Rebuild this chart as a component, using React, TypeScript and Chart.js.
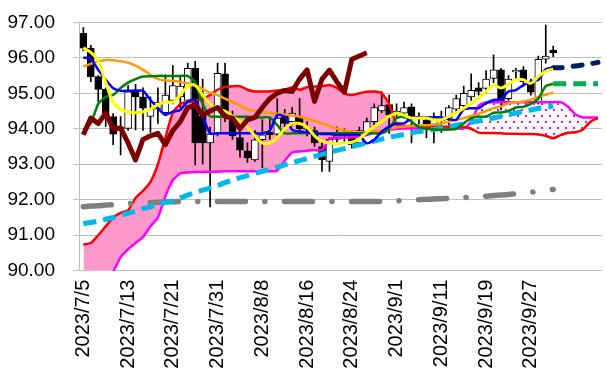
import React, { useEffect, useRef } from 'react';
import { Chart, registerables } from 'chart.js';

Chart.register(...registerables);

const categories = [
  '2023/7/5', '2023/7/6', '2023/7/7', '2023/7/10', '2023/7/11', '2023/7/12', '2023/7/13', '2023/7/14', '2023/7/17', '2023/7/18',
  '2023/7/19', '2023/7/20', '2023/7/21', '2023/7/24', '2023/7/25', '2023/7/26', '2023/7/27', '2023/7/28', '2023/7/31', '2023/8/1',
  '2023/8/2', '2023/8/3', '2023/8/4', '2023/8/7', '2023/8/8', '2023/8/9', '2023/8/10', '2023/8/11', '2023/8/14', '2023/8/15',
  '2023/8/16', '2023/8/17', '2023/8/18', '2023/8/21', '2023/8/22', '2023/8/23', '2023/8/24', '2023/8/25', '2023/8/28', '2023/8/29',
  '2023/8/30', '2023/8/31', '2023/9/1', '2023/9/4', '2023/9/5', '2023/9/6', '2023/9/7', '2023/9/8', '2023/9/11', '2023/9/12',
  '2023/9/13', '2023/9/14', '2023/9/15', '2023/9/18', '2023/9/19', '2023/9/20', '2023/9/21', '2023/9/22', '2023/9/25', '2023/9/26',
  '2023/9/27', '2023/9/28', '2023/9/29', '2023/10/2', '', '', '', '', '', '',
];
const labelEvery = 6;

const opens = [
  96.69, 96.27, 95.47, 95.11, 94.34, 93.95, 94.01, 95.1, 94.9, 94.35,
  94.55, 94.45, 94.8, 94.9, 94.8, 95.7, 94.35, 93.6, 93.87, 95.55,
  94.35, 93.75, 93.38, 93.12, 93.69, 93.9, 93.85, 94.4, 94.2, 94.35,
  93.98, 93.95, 93.5, 93.08, 93.7, 93.8, 93.85, 93.6, 93.9, 94.2,
  94.5, 94.68, 94.4, 94.44, 94.62, 94.35, 94.25, 94.0, 94.22, 94.3,
  94.55, 94.65, 94.9, 95.15, 95.14, 95.42, 95.66, 94.85, 95.6, 95.66,
  95.28, 94.76, 95.96, 96.22,
];
const highs = [
  96.85, 96.35, 95.5, 95.15, 94.43, 94.34, 95.22, 95.25, 95.15, 94.9,
  95.15, 95.52, 95.78, 95.45, 95.85, 95.9, 95.4, 94.05, 95.85, 95.85,
  94.5, 93.95, 93.6, 93.95, 94.25, 94.3, 94.85, 94.55, 94.6, 94.85,
  94.2, 94.05, 93.65, 93.75, 94.05, 94.0, 93.95, 94.05, 94.3, 94.7,
  95.05, 94.95, 94.7, 94.75, 94.7, 94.45, 94.35, 94.45, 94.5, 94.65,
  94.95, 95.2, 95.55, 95.3, 95.64, 96.08, 95.7, 95.5, 95.7, 95.75,
  95.4, 96.05, 96.92, 96.33,
];
const lows = [
  96.2, 95.33, 94.76, 94.06, 93.55, 93.26, 93.95, 93.97, 93.95, 93.9,
  94.15, 94.4, 94.7, 94.6, 94.75, 92.98, 93.0, 91.8, 93.8, 94.2,
  93.7, 93.2, 93.05, 93.08, 92.9, 93.7, 93.8, 94.0, 94.1, 93.95,
  93.8, 93.5, 92.8, 92.8, 93.55, 93.6, 93.45, 93.5, 93.85, 94.1,
  94.45, 93.87, 94.3, 94.3, 93.6, 93.95, 93.75, 93.6, 93.9, 94.1,
  94.45, 94.55, 94.8, 94.95, 95.0, 95.3, 94.53, 94.8, 95.4, 95.2,
  94.95, 94.7, 95.85, 96.03,
];
const closes = [
  96.27, 95.47, 95.11, 94.34, 93.85, 94.05, 95.04, 94.9, 94.58, 94.55,
  94.75, 94.95, 95.22, 95.2, 95.7, 93.6, 93.6, 93.85, 95.56, 94.35,
  93.8, 93.4, 93.18, 93.69, 93.83, 93.83, 94.3, 94.15, 94.44, 94.0,
  94.02, 93.6, 93.12, 93.7, 93.8, 93.87, 93.55, 93.95, 94.2, 94.6,
  94.65, 94.39, 94.5, 94.6, 94.35, 94.3, 94.0, 94.25, 94.32, 94.6,
  94.85, 95.0, 95.08, 95.05, 95.4, 95.66, 94.77, 95.4, 95.65, 95.32,
  95.03, 95.96, 96.05, 96.14,
];
const laggingShift = 25;

const blueLine = [
  96.01, 95.97, 95.66, 95.38, 95.14, 95.07, 95.07, 95.07, 95.07, 94.81,
  94.58, 94.39, 94.48, 94.53, 94.77, 94.81, 94.34, 93.87, 93.87, 93.87,
  93.87, 93.87, 93.87, 93.87, 93.87, 93.95, 94.39, 94.34, 93.97, 93.92,
  93.9, 93.87, 93.85, 93.85, 93.83, 93.83, 93.83, 93.83, 93.59, 93.69,
  93.92, 94.06, 94.15, 94.15, 94.3, 94.3, 94.32, 94.32, 94.32, 94.27,
  94.25, 94.55, 94.58, 94.58, 94.72, 94.81, 94.83, 95.05, 95.09, 95.23,
  95.33, 95.38, 95.68, 95.72,
];
const greenLine = [
  93.95, 94.15, 94.7, 94.9, 94.95, 95.15, 95.3, 95.4, 95.47, 95.48,
  95.49, 95.49, 95.49, 95.49, 95.49, 95.3, 94.7, 94.35, 94.34, 94.34,
  94.34, 94.34, 94.34, 94.32, 94.32, 94.32, 94.1, 93.87, 93.87, 93.87,
  93.87, 93.87, 93.87, 93.87, 93.87, 93.87, 93.87, 93.87, 93.87, 93.87,
  93.87, 94.0, 94.3, 94.34, 94.2, 94.05, 94.0, 93.98, 93.97, 93.98,
  94.0, 94.15, 94.3, 94.34, 94.34, 94.45, 94.46, 94.5, 94.6, 94.62,
  94.7, 94.85, 95.2, 95.27,
];
const yellowLine = [
  96.28, 96.15, 95.9, 95.3, 94.75, 94.55, 94.47, 94.45, 94.48, 94.55,
  94.68, 94.75, 94.75, 94.95, 95.2, 95.22, 94.95, 94.7, 94.55, 94.5,
  94.35, 94.2, 94.05, 93.8, 93.6, 93.6, 93.75, 94.0, 94.15, 94.15,
  94.05, 93.8, 93.65, 93.6, 93.58, 93.6, 93.62, 93.72, 93.9, 94.06,
  94.2, 94.35, 94.44, 94.38, 94.3, 94.3, 94.3, 94.25, 94.25, 94.35,
  94.45, 94.58, 94.72, 94.86, 95.05, 95.23, 95.15, 95.25, 95.38, 95.38,
  95.28, 95.47, 95.62, 95.68,
];
const orangeLine = [
  95.75, 95.83, 95.9, 95.94, 95.93, 95.9, 95.86, 95.78, 95.66, 95.52,
  95.4, 95.37, 95.35, 95.32, 95.28, 95.23, 95.12, 95.02, 94.95, 94.85,
  94.76, 94.65, 94.55, 94.5, 94.47, 94.45, 94.42, 94.4, 94.37, 94.34,
  94.28, 94.22, 94.15, 94.08, 94.0, 93.95, 93.92, 93.9, 93.9, 93.93,
  93.95, 94.0, 94.04, 94.06, 94.08, 94.1, 94.1, 94.12, 94.15, 94.2,
  94.25, 94.3, 94.36, 94.42, 94.5, 94.58, 94.63, 94.72, 94.75, 94.77,
  94.82, 94.9, 94.96, 95.02,
];
const spanRed = [
  90.74, 90.78, 91.0, 91.25, 91.5, 91.63, 91.7, 92.05, 92.25, 92.5,
  93.0, 93.75, 94.45, 94.7, 94.75, 94.78, 94.85, 94.95, 95.1, 95.18,
  95.2, 95.2, 95.1, 95.05, 95.05, 95.05, 95.08, 95.1, 95.17, 95.1,
  95.17, 95.19, 95.2, 95.23, 95.15, 95.0, 94.95, 95.0, 95.04, 95.05,
  95.0, 94.7, 94.12, 94.08, 94.08, 94.08, 94.07, 94.07, 94.06, 94.06,
  94.06, 94.05, 94.0, 93.89, 93.88, 93.88, 93.87, 93.86, 93.86, 93.85,
  93.85, 93.84, 93.8, 93.73, 93.82, 93.89, 93.9, 93.98, 94.2, 94.3,
];
const spanMagenta = [
  89.2, 89.4, 89.65, 89.85, 89.98, 90.38, 90.6, 90.78, 90.95, 91.25,
  91.5, 92.1, 92.55, 92.74, 92.77, 92.78, 92.78, 92.79, 92.79, 92.8,
  92.8, 92.8, 92.8, 92.8, 92.8, 92.8, 92.82, 93.1, 93.33, 93.36,
  93.38, 93.4, 93.4, 93.72, 93.74, 93.75, 93.76, 93.78, 93.82, 93.88,
  93.93, 93.97, 94.0, 94.01, 94.01, 94.01, 94.01, 94.01, 94.01, 94.01,
  94.01, 94.01, 94.2, 94.65, 94.74, 94.75, 94.75, 94.75, 94.75, 94.75,
  94.75, 94.75, 94.75, 94.75, 94.75, 94.62, 94.4, 94.32, 94.32, 94.32,
];
const cyanLine = [
  91.33, 91.36, 91.4, 91.45, 91.5, 91.56, 91.62, 91.68, 91.75, 91.8,
  91.86, 91.92, 91.97, 92.05, 92.13, 92.2, 92.27, 92.33, 92.4, 92.48,
  92.55, 92.62, 92.68, 92.74, 92.8, 92.86, 92.92, 92.98, 93.04, 93.1,
  93.16, 93.22, 93.28, 93.34, 93.39, 93.44, 93.5, 93.55, 93.6, 93.65,
  93.71, 93.76, 93.8, 93.84, 93.88, 93.92, 93.95, 93.98, 94.02, 94.06,
  94.1, 94.14, 94.18, 94.22, 94.26, 94.3, 94.35, 94.4, 94.44, 94.49,
  94.53, 94.57, 94.6, 94.64,
];
const grayLine = [
  91.8, 91.82, 91.83, 91.85, 91.86, 91.88, 91.89, 91.9, 91.91, 91.92,
  91.93, 91.94, 91.94, 91.95, 91.95, 91.95, 91.95, 91.95, 91.95, 91.95,
  91.95, 91.95, 91.95, 91.95, 91.95, 91.95, 91.95, 91.95, 91.95, 91.95,
  91.95, 91.95, 91.95, 91.95, 91.95, 91.95, 91.95, 91.95, 91.95, 91.95,
  91.95, 91.96, 91.97, 91.98, 91.99, 92.0, 92.01, 92.02, 92.03, 92.04,
  92.05, 92.06, 92.07, 92.08, 92.1, 92.12, 92.13, 92.15, 92.17, 92.19,
  92.21, 92.23, 92.26, 92.29,
];
const forecastStart = 63;
const blueForecast = [95.72, 95.72, 95.74, 95.77, 95.8, 95.83, 95.87];
const greenForecast = [95.27, 95.27, 95.27, 95.27, 95.27, 95.27, 95.27];

const yTicks = { min: 90, max: 97, step: 1 };

function padTo(arr: (number | null)[], start: number, len: number) {
  const out: (number | null)[] = new Array(len).fill(null);
  arr.forEach((v, i) => { out[start + i] = v; });
  return out;
}

export default function App() {
  const ref = useRef<HTMLCanvasElement | null>(null);

  useEffect(() => {
    const canvas = ref.current;
    if (!canvas) return;
    const ctx = canvas.getContext('2d')!;
    const n = categories.length;

    const pc = document.createElement('canvas');
    pc.width = 8;
    pc.height = 12;
    const pctx = pc.getContext('2d')!;
    pctx.fillStyle = '#FFFFFF';
    pctx.fillRect(0, 0, 8, 12);
    pctx.fillStyle = '#FF00FF';
    pctx.fillRect(1, 1, 2, 2);
    pctx.fillRect(5, 7, 2, 2);
    const dots = ctx.createPattern(pc, 'repeat')!;

    const lagging = padTo(closes.slice(laggingShift), 0, n);
    const font = "'Liberation Sans', Arial, sans-serif";

    const lineBase = {
      type: 'line' as const,
      pointRadius: 0,
      pointHoverRadius: 0,
      fill: false,
    };

    const chart = new Chart(ctx, {
      type: 'bar',
      data: {
        labels: categories,
        datasets: [
          { ...lineBase, label: 'spanB', data: padTo(spanMagenta, 0, n), borderColor: '#FF00FF', borderWidth: 2.5, tension: 0.2, order: 9 } as any,
          { ...lineBase, label: 'spanA', data: padTo(spanRed, 0, n), borderColor: '#FF0000', borderWidth: 2.5, tension: 0.2, fill: { target: 0, above: '#FF99CC', below: dots }, order: 8 } as any,
          { type: 'bar', label: 'wick', data: lows.map((l, i) => [l, highs[i]]), backgroundColor: '#000000', borderWidth: 0, barThickness: 1, grouped: false, order: 11 } as any,
          { type: 'bar', label: 'body', data: opens.map((o, i) => [o, closes[i]]), backgroundColor: opens.map((o, i) => (closes[i] < o ? '#000000' : '#FFFFFF')), borderColor: '#000000', borderWidth: 1, borderSkipped: false, barThickness: 7, grouped: false, order: 10 } as any,
          { ...lineBase, label: 'gray', data: padTo(grayLine, 0, n), borderColor: '#808080', borderWidth: 5.5, borderDash: [28, 19.5, 0.1, 19.5], borderCapStyle: 'round', tension: 0.3, order: 7 } as any,
          { ...lineBase, label: 'cyan', data: padTo(cyanLine, 0, n), borderColor: '#00B8F0', borderWidth: 5, borderDash: [13, 7], tension: 0.3, order: 6 } as any,
          { ...lineBase, label: 'orange', data: padTo(orangeLine, 0, n), borderColor: '#FF9900', borderWidth: 2.5, tension: 0.35, order: 5 } as any,
          { ...lineBase, label: 'green', data: padTo(greenLine, 0, n), borderColor: '#008000', borderWidth: 2.5, tension: 0.2, order: 4 } as any,
          { ...lineBase, label: 'blue', data: padTo(blueLine, 0, n), borderColor: '#0000FF', borderWidth: 2.5, tension: 0.2, order: 3 } as any,
          { ...lineBase, label: 'yellow', data: padTo(yellowLine, 0, n), borderColor: '#FFFF00', borderWidth: 3, tension: 0.35, order: 2 } as any,
          { ...lineBase, label: 'lagging', data: lagging, borderColor: '#7B0000', borderWidth: 5, tension: 0, borderJoinStyle: 'round', order: 1 } as any,
          { ...lineBase, label: 'blueForecast', data: padTo(blueForecast, forecastStart, n), borderColor: '#002060', borderWidth: 5, borderDash: [9, 11], borderCapStyle: 'round', tension: 0.3, order: 2 } as any,
          { ...lineBase, label: 'greenForecast', data: padTo(greenForecast, forecastStart, n), borderColor: '#00B050', borderWidth: 5, borderDash: [13, 7], tension: 0, order: 2 } as any,
        ],
      },
      options: {
        responsive: false,
        animation: false,
        events: [],
        layout: { padding: { left: 0, right: 5.3, top: 22.3, bottom: 0 } },
        plugins: {
          legend: { display: false },
          tooltip: { enabled: false },
          filler: { drawTime: 'beforeDatasetsDraw' } as any,
        },
        scales: {
          x: {
            type: 'category',
            offset: true,
            grid: { display: false, drawTicks: false },
            border: { display: false },
            ticks: {
              autoSkip: false,
              minRotation: 90,
              maxRotation: 90,
              padding: 9,
              color: '#000000',
              font: { family: font, size: 20 },
              callback: (_v: any, idx: number) =>
                idx % labelEvery === 0 && categories[idx] ? categories[idx] : '',
            },
            afterFit: (scale: any) => {
              scale.height = 118.3;
              scale.paddingLeft = 0;
              scale.paddingRight = 0;
            },
          },
          y: {
            type: 'linear',
            min: yTicks.min,
            max: yTicks.max,
            grid: { color: '#BFBFBF', lineWidth: 1, drawTicks: true, tickLength: 6 },
            border: { display: true, color: '#BFBFBF' },
            ticks: {
              stepSize: yTicks.step,
              padding: 18.6,
              color: '#000000',
              font: { family: font, size: 19 },
              callback: (v: any) => Number(v).toFixed(2),
            },
            afterFit: (scale: any) => {
              scale.width = 79.6;
              scale.paddingTop = 0;
              scale.paddingBottom = 0;
            },
          },
        },
      },
    });

    return () => chart.destroy();
  }, []);

  return (
    <div style={{ position: 'fixed', left: 0, top: 0, width: 607, height: 389, background: '#FFFFFF' }}>
      <canvas ref={ref} width={607} height={389} style={{ display: 'block', width: 607, height: 389 }} />
    </div>
  );
}
